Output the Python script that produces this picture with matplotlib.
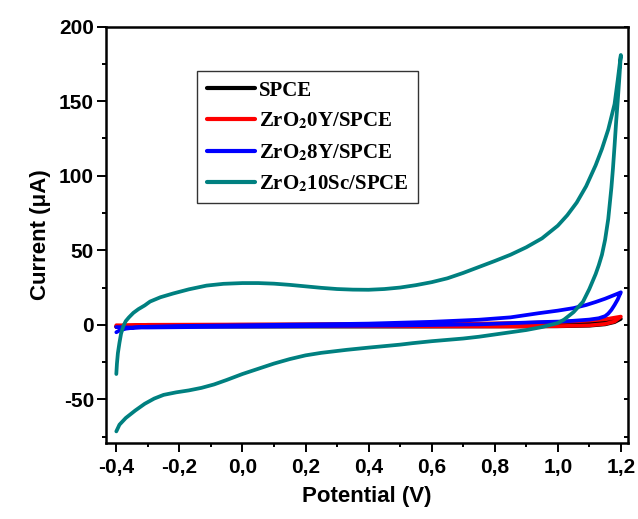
import matplotlib
matplotlib.use("Agg")
import matplotlib.pyplot as plt
from matplotlib.ticker import MultipleLocator, FixedLocator, FixedFormatter

# ---------------- data ----------------
labels = ["SPCE", r"ZrO$_\mathbf{2}$0Y/SPCE", r"ZrO$_\mathbf{2}$8Y/SPCE", r"ZrO$_\mathbf{2}$10Sc/SPCE"]
colors = ["#000000", "#ff0000", "#0000ff", "#008080"]

# SPCE
spce_fwd_x = [-0.40, -0.38, -0.30, 0.00, 0.40, 0.80, 1.00, 1.10, 1.15, 1.20]
spce_fwd_y = [-1.5, -0.8, -0.3, 0.0, 0.3, 0.7, 1.1, 1.8, 2.6, 4.0]
spce_rev_x = [1.20, 1.18, 1.15, 1.10, 1.00, 0.60, 0.00, -0.30, -0.40]
spce_rev_y = [4.0, 1.8, 0.3, -0.6, -1.0, -1.2, -1.2, -1.0, -0.8]

# ZrO2 0Y
zy0_fwd_x = [-0.40, -0.38, -0.30, 0.00, 0.40, 0.80, 0.90, 1.00, 1.10, 1.15, 1.20]
zy0_fwd_y = [-1.5, -0.6, 0.0, 0.2, 0.4, 0.9, 1.3, 1.8, 2.8, 3.7, 5.5]
zy0_rev_x = [1.20, 1.18, 1.15, 1.10, 1.00, 0.90, 0.60, 0.00, -0.30, -0.40]
zy0_rev_y = [5.5, 2.2, 0.6, -0.4, -0.9, -1.1, -1.0, -0.8, -0.6, -0.3]

# ZrO2 8Y
zy8_fwd_x = [-0.40, -0.39, -0.37, -0.34, -0.30, -0.20, 0.00, 0.20, 0.40, 0.60, 0.75, 0.85, 0.94, 1.00, 1.05, 1.09, 1.12, 1.15, 1.17, 1.19, 1.20]
zy8_fwd_y = [-5.0, -3.8, -2.6, -1.8, -1.3, -0.8, -0.3, 0.2, 0.8, 2.0, 3.4, 5.0, 7.8, 9.5, 11.2, 13.3, 15.3, 17.5, 19.2, 20.9, 21.8]
zy8_rev_x = [1.20, 1.195, 1.19, 1.18, 1.17, 1.16, 1.15, 1.13, 1.10, 1.05, 1.01, 0.94, 0.75, 0.50, 0.20, 0.00, -0.20, -0.30, -0.36, -0.40]
zy8_rev_y = [21.8, 19.5, 17.0, 13.3, 10.0, 7.5, 5.8, 4.4, 3.5, 2.7, 2.2, 1.8, 0.3, -0.4, -0.9, -1.2, -1.6, -1.8, -1.8, -1.5]

# ZrO2 10Sc
sc_fwd_x = [-0.40, -0.398, -0.395, -0.39, -0.385, -0.378, -0.37, -0.36, -0.346, -0.33, -0.31, -0.293,
            -0.26, -0.22, -0.17, -0.114, -0.06,
            0.00, 0.05, 0.10, 0.15, 0.20, 0.25, 0.30, 0.35, 0.40, 0.45, 0.50, 0.55, 0.60, 0.65,
            0.70, 0.75, 0.80, 0.85, 0.90, 0.95, 1.00, 1.03, 1.06, 1.09, 1.12, 1.14, 1.16, 1.18, 1.19, 1.20]
sc_fwd_y = [-33.0, -26.0, -19.0, -12.0, -6.0, -1.0, 2.5, 5.0, 8.0, 10.5, 13.0, 15.6,
            18.5, 21.0, 23.8, 26.3, 27.5,
            28.0, 28.0, 27.6, 26.8, 25.8, 24.8, 24.0, 23.6, 23.5, 24.0, 25.0, 26.6, 28.6, 31.2,
            34.8, 38.8, 42.8, 47.0, 52.0, 58.0, 66.5, 73.5, 82.0, 93.0, 107.0, 118.0, 131.0, 148.0, 164.0, 181.0]
sc_rev_x = [1.20, 1.195, 1.19, 1.185, 1.18, 1.175, 1.17, 1.16, 1.15, 1.14, 1.13, 1.12, 1.10, 1.08, 1.05, 1.02, 1.00,
            0.95, 0.90, 0.85, 0.80, 0.75, 0.70, 0.60, 0.54, 0.50, 0.40, 0.33, 0.25, 0.20,
            0.15, 0.10, 0.05, 0.00, -0.05, -0.09, -0.13, -0.17, -0.21, -0.25, -0.28, -0.31, -0.34, -0.37, -0.39, -0.40]
sc_rev_y = [181.0, 165.0, 150.0, 136.0, 120.0, 105.0, 92.0, 71.0, 57.0, 47.0, 40.0, 34.0, 24.0, 15.5, 8.5, 3.5, 1.2,
            -1.5, -3.5, -5.0, -6.5, -8.0, -9.2, -11.0, -12.3, -13.3, -15.3, -16.8, -18.8, -20.5,
            -23.0, -26.0, -29.5, -33.0, -37.0, -40.0, -42.3, -44.0, -45.3, -47.0, -49.5, -53.0, -57.5, -62.5, -67.0, -71.5]

x_ticks = [-0.4, -0.2, 0.0, 0.2, 0.4, 0.6, 0.8, 1.0, 1.2]
x_tick_labels = ["-0,4", "-0,2", "0,0", "0,2", "0,4", "0,6", "0,8", "1,0", "1,2"]
y_ticks = [-50, 0, 50, 100, 150, 200]
y_tick_labels = ["-50", "0", "50", "100", "150", "200"]

# ---------------- plot ----------------
plt.rcParams["mathtext.fontset"] = "stix"
fig = plt.figure(figsize=(6.38, 5.19), dpi=100)
ax = fig.add_axes([0.166, 0.1464, 0.818, 0.8022])

series = [
    (spce_fwd_x + spce_rev_x, spce_fwd_y + spce_rev_y),
    (zy0_fwd_x + zy0_rev_x, zy0_fwd_y + zy0_rev_y),
    (zy8_fwd_x + zy8_rev_x, zy8_fwd_y + zy8_rev_y),
    (sc_fwd_x + sc_rev_x, sc_fwd_y + sc_rev_y),
]
for (xs, ys), lab, col in zip(series, labels, colors):
    ax.plot(xs, ys, color=col, lw=2.7, label=lab, solid_capstyle="round", solid_joinstyle="round")

ax.set_xlim(-0.433, 1.222)
ax.set_ylim(-79.3, 200)

for s in ax.spines.values():
    s.set_linewidth(1.8)

ax.xaxis.set_major_locator(FixedLocator(x_ticks))
ax.xaxis.set_major_formatter(FixedFormatter(x_tick_labels))
ax.xaxis.set_minor_locator(MultipleLocator(0.1))
ax.yaxis.set_major_locator(FixedLocator(y_ticks))
ax.yaxis.set_major_formatter(FixedFormatter(y_tick_labels))
ax.yaxis.set_minor_locator(MultipleLocator(25))

ax.tick_params(axis="both", which="major", direction="out", length=6.5, width=1.4,
               labelsize=15, pad=2)
ax.tick_params(axis="x", which="major", pad=4)
ax.tick_params(axis="both", which="minor", direction="out", length=3.2, width=1.4)
ax.tick_params(axis="y", which="both", right=True)
# right ticks inward
for t in ax.yaxis.get_major_ticks() + ax.yaxis.get_minor_ticks():
    t.tick2line.set_marker(matplotlib.lines.TICKLEFT)
    t.tick2line.set_markersize(3)
for lab in ax.get_xticklabels() + ax.get_yticklabels():
    lab.set_fontfamily("Liberation Sans")
    lab.set_fontweight("bold")

ax.set_xlabel("Potential (V)", fontsize=16, fontweight="bold", family="Liberation Sans", labelpad=7)
ax.set_ylabel("Current (\u03bcA)", fontsize=16, fontweight="bold", family="Liberation Sans", labelpad=6)

leg = ax.legend(loc="upper left", bbox_to_anchor=(0.175, 0.893), frameon=True, fancybox=False,
                edgecolor="black", borderpad=0.45, labelspacing=0.5, handlelength=2.3,
                handletextpad=0.22, borderaxespad=0,
                prop={"family": "Liberation Serif", "weight": "bold", "size": 15})
leg.get_frame().set_linewidth(1.0)
for h in leg.get_lines():
    h.set_linewidth(3)

fig.savefig("out.png", dpi=100)
